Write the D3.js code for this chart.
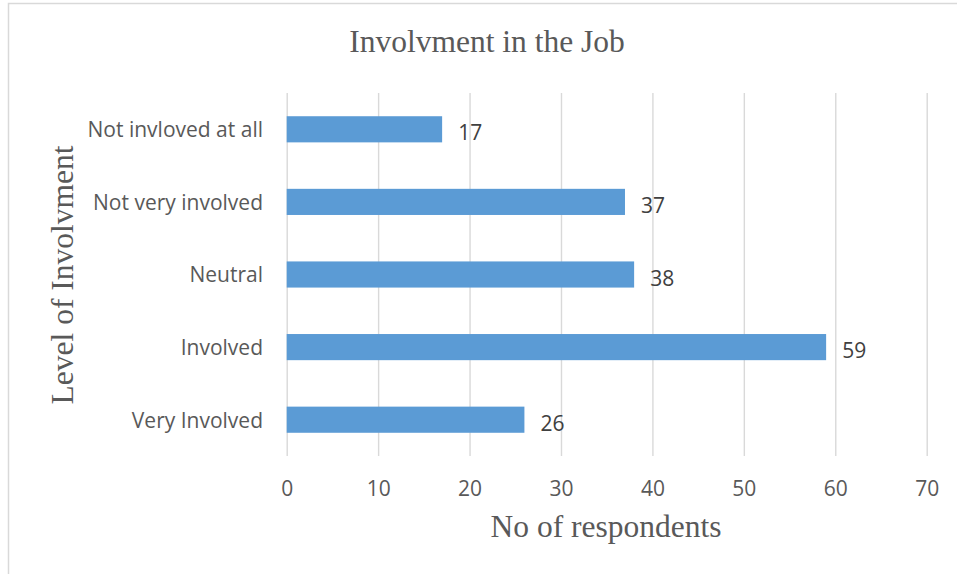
<!DOCTYPE html>
<html>
<head>
<meta charset="utf-8">
<script src="https://cdn.jsdelivr.net/npm/d3@7/dist/d3.min.js"></script>
<style>
  html, body { margin: 0; padding: 0; background: #fff; }
  svg { display: block; }
</style>
</head>
<body>
<svg id="chart" width="957" height="574"></svg>
<script>
// Survey responses: level of involvement in the job
const categories = ["Not invloved at all", "Not very involved", "Neutral", "Involved", "Very Involved"];
const respondents = [17, 37, 38, 59, 26];
const xTicks = [0, 10, 20, 30, 40, 50, 60, 70];

const chartTitle = "Involvment in the Job";
const xTitle = "No of respondents";
const yTitle = "Level of Involvment";

const W = 957, H = 574;
const plot = { left: 286.7, right: 926.7, top: 93, bottom: 456 };
const textColor = "#595959";
const sans = "'Open Sans', 'Noto Sans', sans-serif";
const serif = "'Liberation Serif', 'Times New Roman', serif";

const svg = d3.select("#chart");

// chart frame (left and top edges visible)
svg.append("rect")
  .attr("x", 8.5).attr("y", 3.5)
  .attr("width", W + 20).attr("height", H + 20)
  .attr("fill", "#fff")
  .attr("stroke", "#d9d9d9")
  .attr("stroke-width", 1.5);

const x = d3.scaleLinear().domain([0, 70]).range([plot.left, plot.right]);
const y = d3.scaleBand().domain(categories).range([plot.top, plot.bottom]).paddingInner(0.64).paddingOuter(0.32);

// vertical gridlines
const xAxis = d3.axisBottom(x).tickValues(xTicks).tickSize(plot.bottom - plot.top).tickFormat(d3.format("d"));
const gx = svg.append("g").attr("transform", `translate(0,${plot.top})`).call(xAxis);
gx.select(".domain").remove();
gx.selectAll(".tick line").attr("stroke", "#d9d9d9").attr("stroke-width", 1.4);
gx.selectAll(".tick text")
  .attr("y", plot.bottom - plot.top + 40)
  .attr("dy", 0)
  .attr("fill", textColor)
  .style("font-family", sans)
  .style("font-size", "21px");

// category labels
const yAxis = d3.axisLeft(y).tickSize(0).tickPadding(0);
const gy = svg.append("g").attr("transform", `translate(263,0)`).call(yAxis);
gy.select(".domain").remove();
gy.selectAll(".tick text")
  .attr("x", 0)
  .attr("dy", "0.38em")
  .attr("fill", textColor)
  .style("font-family", sans)
  .style("font-size", "21px");

// bars
svg.append("g").selectAll("rect")
  .data(categories)
  .join("rect")
  .attr("x", x(0))
  .attr("y", (d) => y(d))
  .attr("width", (d, i) => x(respondents[i]) - x(0))
  .attr("height", y.bandwidth())
  .attr("fill", "#5b9bd5");

// value labels
svg.append("g").selectAll("text")
  .data(categories)
  .join("text")
  .attr("x", (d, i) => x(respondents[i]) + 16)
  .attr("y", (d) => y(d) + y.bandwidth() / 2 + 11)
  .attr("fill", "#404040")
  .style("font-family", sans)
  .style("font-size", "21px")
  .text((d, i) => respondents[i]);

// titles
svg.append("text")
  .attr("x", 487).attr("y", 52)
  .attr("text-anchor", "middle")
  .attr("fill", textColor)
  .style("font-family", serif)
  .style("font-size", "31.5px")
  .text(chartTitle);

svg.append("text")
  .attr("x", 606).attr("y", 537)
  .attr("text-anchor", "middle")
  .attr("fill", textColor)
  .style("font-family", serif)
  .style("font-size", "31.5px")
  .text(xTitle);

svg.append("text")
  .attr("transform", "translate(73,275) rotate(-90)")
  .attr("text-anchor", "middle")
  .attr("fill", textColor)
  .style("font-family", serif)
  .style("font-size", "31.5px")
  .text(yTitle);
</script>
</body>
</html>
